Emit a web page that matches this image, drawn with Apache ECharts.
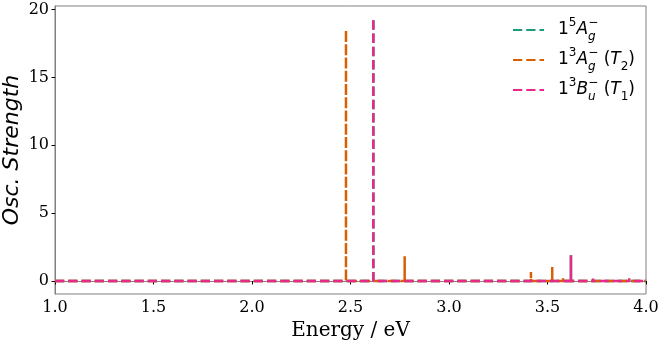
<!DOCTYPE html>
<html>
<head>
<meta charset="utf-8">
<script src="https://cdn.jsdelivr.net/npm/echarts@6/dist/echarts.min.js"></script>
<style>
html, body { margin: 0; padding: 0; background: #fff; }
#chart { width: 664px; height: 344px; }
</style>
</head>
<body>
<div id="chart"></div>
<script>
// peak positions (eV) and oscillator strengths
var quintetEnergy = [2.616, 3.619];
var quintetStrength = [19.35, 1.9];
var t2Energy = [2.477, 2.775, 3.416, 3.524, 3.579, 3.74, 3.945];
var t2Strength = [18.5, 1.82, 0.66, 1.03, 0.2, 0.08, 0.1];
var t1Energy = [2.616, 3.619, 3.731, 3.915];
var t1Strength = [19.35, 1.9, 0.18, 0.2];

var seriesNames = ['1⁵A⁻g', '1³A⁻g (T₂)', '1³B⁻u (T₁)'];
var legendRich = [
    '1{sup|5}{it|A}{subz|g}{sup|−}',
    '1{sup|3}{it|A}{subz|g}{sup|−} ({it|T}{sub|2})',
    '1{sup|3}{it|B}{subz|u}{sup|−} ({it|T}{sub|1})'
];
var colors = ['#1b9e77', '#d95f02', '#e7298a'];
var xTicks = [1.0, 1.5, 2.0, 2.5, 3.0, 3.5, 4.0];
var yTicks = [0, 5, 10, 15, 20];
var xRange = [1.0, 4.0];
var yRange = [-0.96, 20.26];

// stick spectrum: flat zero line with a vertical spike at each peak
function sticks(energy, strength) {
    var d = [[xRange[0], 0]];
    for (var i = 0; i < energy.length; i++) {
        d.push([energy[i], 0], [energy[i], strength[i]], [energy[i], 0]);
    }
    d.push([xRange[1], 0]);
    return d;
}

var allData = [
    sticks(quintetEnergy, quintetStrength),
    sticks(t2Energy, t2Strength),
    sticks(t1Energy, t1Strength)
];

var series = [];
for (var k = 0; k < 3; k++) {
    series.push({
        name: seriesNames[k],
        type: 'line',
        data: allData[k],
        symbol: 'none',
        animation: false,
        lineStyle: { color: colors[k], width: 2.5, type: [9.25, 4], cap: 'butt' },
        itemStyle: { color: colors[k] }
    });
}

var myChart = echarts.init(document.getElementById('chart'));
myChart.setOption({
    backgroundColor: '#fff',
    animation: false,
    grid: {
        left: 55, right: 18, top: 6, bottom: 50,
        outerBoundsMode: 'none',
        containLabel: false,
        show: true, borderColor: '#808080', borderWidth: 1
    },
    legend: {
        orient: 'vertical',
        left: 512, top: 17,
        padding: 0,
        itemWidth: 31, itemHeight: 14, itemGap: 4,
        data: seriesNames,
        itemStyle: { opacity: 0 },
        formatter: function (name) {
            return legendRich[seriesNames.indexOf(name)];
        },
        textStyle: {
            fontFamily: 'DejaVu Sans', fontSize: 17, color: '#000',
            lineHeight: 26, padding: [0, 0, 0, 9],
            rich: {
                it: { fontFamily: 'DejaVu Sans', fontSize: 17, fontStyle: 'italic', color: '#000' },
                sup: { fontFamily: 'DejaVu Sans', fontSize: 12, lineHeight: 15, verticalAlign: 'top', color: '#000' },
                sub: { fontFamily: 'DejaVu Sans', fontSize: 12, lineHeight: 14, verticalAlign: 'bottom', color: '#000' },
                subz: { fontFamily: 'DejaVu Sans', fontSize: 12, fontStyle: 'italic', lineHeight: 14, verticalAlign: 'bottom', width: 0.1, color: '#000' }
            }
        }
    },
    xAxis: {
        type: 'value',
        min: xRange[0], max: xRange[1], interval: 0.5,
        name: 'Energy / eV',
        nameLocation: 'middle',
        nameGap: 16,
        nameTextStyle: { fontFamily: 'DejaVu Serif', fontSize: 20, color: '#000' },
        axisLine: { lineStyle: { color: '#808080', width: 1 } },
        axisTick: { show: true, length: 3.5, customValues: xTicks, lineStyle: { color: '#000' } },
        axisLabel: {
            fontFamily: 'DejaVu Serif', fontSize: 16, color: '#000', margin: 6,
            customValues: xTicks,
            formatter: function (v) { return v.toFixed(1); }
        },
        splitLine: { show: false }
    },
    yAxis: {
        type: 'value',
        min: yRange[0], max: yRange[1],
        name: 'Osc. Strength',
        nameLocation: 'middle',
        nameMoveOverlap: false,
        nameGap: 32,
        nameTextStyle: { fontFamily: 'DejaVu Sans', fontSize: 22, fontStyle: 'italic', color: '#000' },
        axisLine: { show: true, lineStyle: { color: '#808080', width: 1 } },
        axisTick: { show: true, length: 3.5, customValues: yTicks, lineStyle: { color: '#000' } },
        axisLabel: { fontFamily: 'DejaVu Serif', fontSize: 16, color: '#000', margin: 6, customValues: yTicks },
        splitLine: { show: false }
    },
    series: series
});
</script>
</body>
</html>
